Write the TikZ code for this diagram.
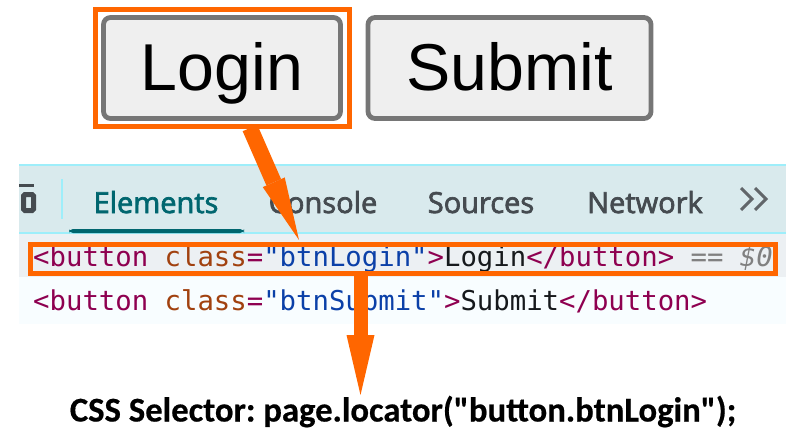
\documentclass[tikz,border=0pt]{standalone}
\usepackage{fontspec}
\setmainfont{Liberation Sans}
\newfontfamily\tabfont[FakeBold=2.4]{Open Sans}
\newfontfamily\codefont{DejaVu Sans Mono}
\newfontfamily\selfont[BoldFeatures={FakeBold=0.5}]{Carlito}
\usetikzlibrary{arrows.meta}
\definecolor{pickorange}{HTML}{FF6600}
\definecolor{btngray}{HTML}{767676}
\definecolor{btnfill}{HTML}{EFEFEF}
\definecolor{tabbg}{HTML}{D9EAED}
\definecolor{tabcyan}{HTML}{9EEEFA}
\definecolor{tabteal}{HTML}{00666F}
\definecolor{tabtext}{HTML}{454B50}
\definecolor{rowone}{HTML}{ECF0F3}
\definecolor{rowtwo}{HTML}{F8FDFF}
\definecolor{tagcol}{HTML}{8E0050}
\definecolor{attrcol}{HTML}{A1410F}
\definecolor{valcol}{HTML}{0B40A8}
\definecolor{txtcol}{HTML}{16191C}
\begin{document}
\begin{tikzpicture}[
            x=1pt, y=-1pt,
            btn/.style={rectangle, rounded corners=7pt, draw=btngray, line width=4.8pt, fill=btnfill, inner sep=0pt, text height=45.4pt, text depth=0pt, font=\fontsize{66.3}{70}\selectfont},
            pick/.style={rectangle, draw=pickorange, line width=5pt, inner sep=0pt},
            tab/.style={anchor=base, inner sep=0pt, text=tabtext, font=\tabfont\fontsize{29}{32}\selectfont},
            code/.style={anchor=base west, inner sep=0pt, font=\codefont\fontsize{27.3}{30}\selectfont},
            bigarrow/.style n args={3}{draw=pickorange, line width=#1, -{Triangle[width=#2,length=#3,line width=0pt]}}
        ]
        \useasboundingbox (0,0) rectangle (804,447);
        \node[btn, minimum width=237pt, minimum height=101pt] (loginBtn) at (222,68) {Login};
        \node[btn, minimum width=283pt, minimum height=101pt] (submitBtn) at (509.5,68) {Submit};
        \node[pick, minimum width=254.5pt, minimum height=117.5pt] (loginPick) at (222.5,68) {};
        \fill[tabbg] (19,165) rectangle (786,233);
        \fill[rowone] (19,233) rectangle (786,277);
        \fill[rowtwo] (19,277) rectangle (786,324);
        \draw[tabcyan, line width=2pt] (19,165) -- (786,165);
        \draw[tabcyan, line width=2pt] (19,233) -- (786,233);
        \draw[tabcyan, line width=2.5pt] (62,179) -- (62,219);
        \fill[tabtext] (19,184) rectangle (34,187);
        \draw[tabtext, line width=5pt, rounded corners=1.5pt] (23.5,194.5) rectangle (33.5,210.5);
        \fill[tabteal, rounded corners=4pt] (69,233) -- (69,229) -- (244,229) -- (244,233) -- cycle;
        \node[tab, text=tabteal] (elementsTab) at (156,213) {Elements};
        \node[tab] (consoleTab) at (323,213) {Console};
        \node[tab] (sourcesTab) at (481,213) {Sources};
        \node[tab] (networkTab) at (645,213) {Network};
        \draw[tabtext!85, line width=3pt] (741,188) -- (752,199) -- (741,210);
        \draw[tabtext!85, line width=3pt] (755,188) -- (766,199) -- (755,210);
        \node[code] (loginLine) at (33,266) {\textcolor{tagcol}{<button} \textcolor{attrcol}{class}\textcolor{tagcol}{=}\textcolor{valcol}{"btnLogin"}\textcolor{tagcol}{>}\textcolor{txtcol}{Login}\textcolor{tagcol}{</button>} \textcolor{gray}{\itshape == \$0}};
        \node[code] (submitLine) at (33,310) {\textcolor{tagcol}{<button} \textcolor{attrcol}{class}\textcolor{tagcol}{=}\textcolor{valcol}{"btnSubmit"}\textcolor{tagcol}{>}\textcolor{txtcol}{Submit}\textcolor{tagcol}{</button>}};
        \node[pick, minimum width=745pt, minimum height=29.5pt] (rowPick) at (402.5,259) {};
        \node[anchor=base, inner sep=0pt, font=\selfont\bfseries\frenchspacing\fontsize{34.7}{38}\selectfont] (selectorText) at (403,421.5) {CSS Selector: page.locator("button.btnLogin");};
        \coordinate (tipOne) at (299,240);
        \coordinate (tipTwo) at (360.5,395);
        \coordinate (startOne) at (250,128);
        \draw[bigarrow={16pt}{24pt}{63pt}] (startOne) -- (tipOne);
        \draw[bigarrow={14pt}{28pt}{60pt}] (rowPick.south -| tipTwo) -- (tipTwo);
\end{tikzpicture}
\end{document}
